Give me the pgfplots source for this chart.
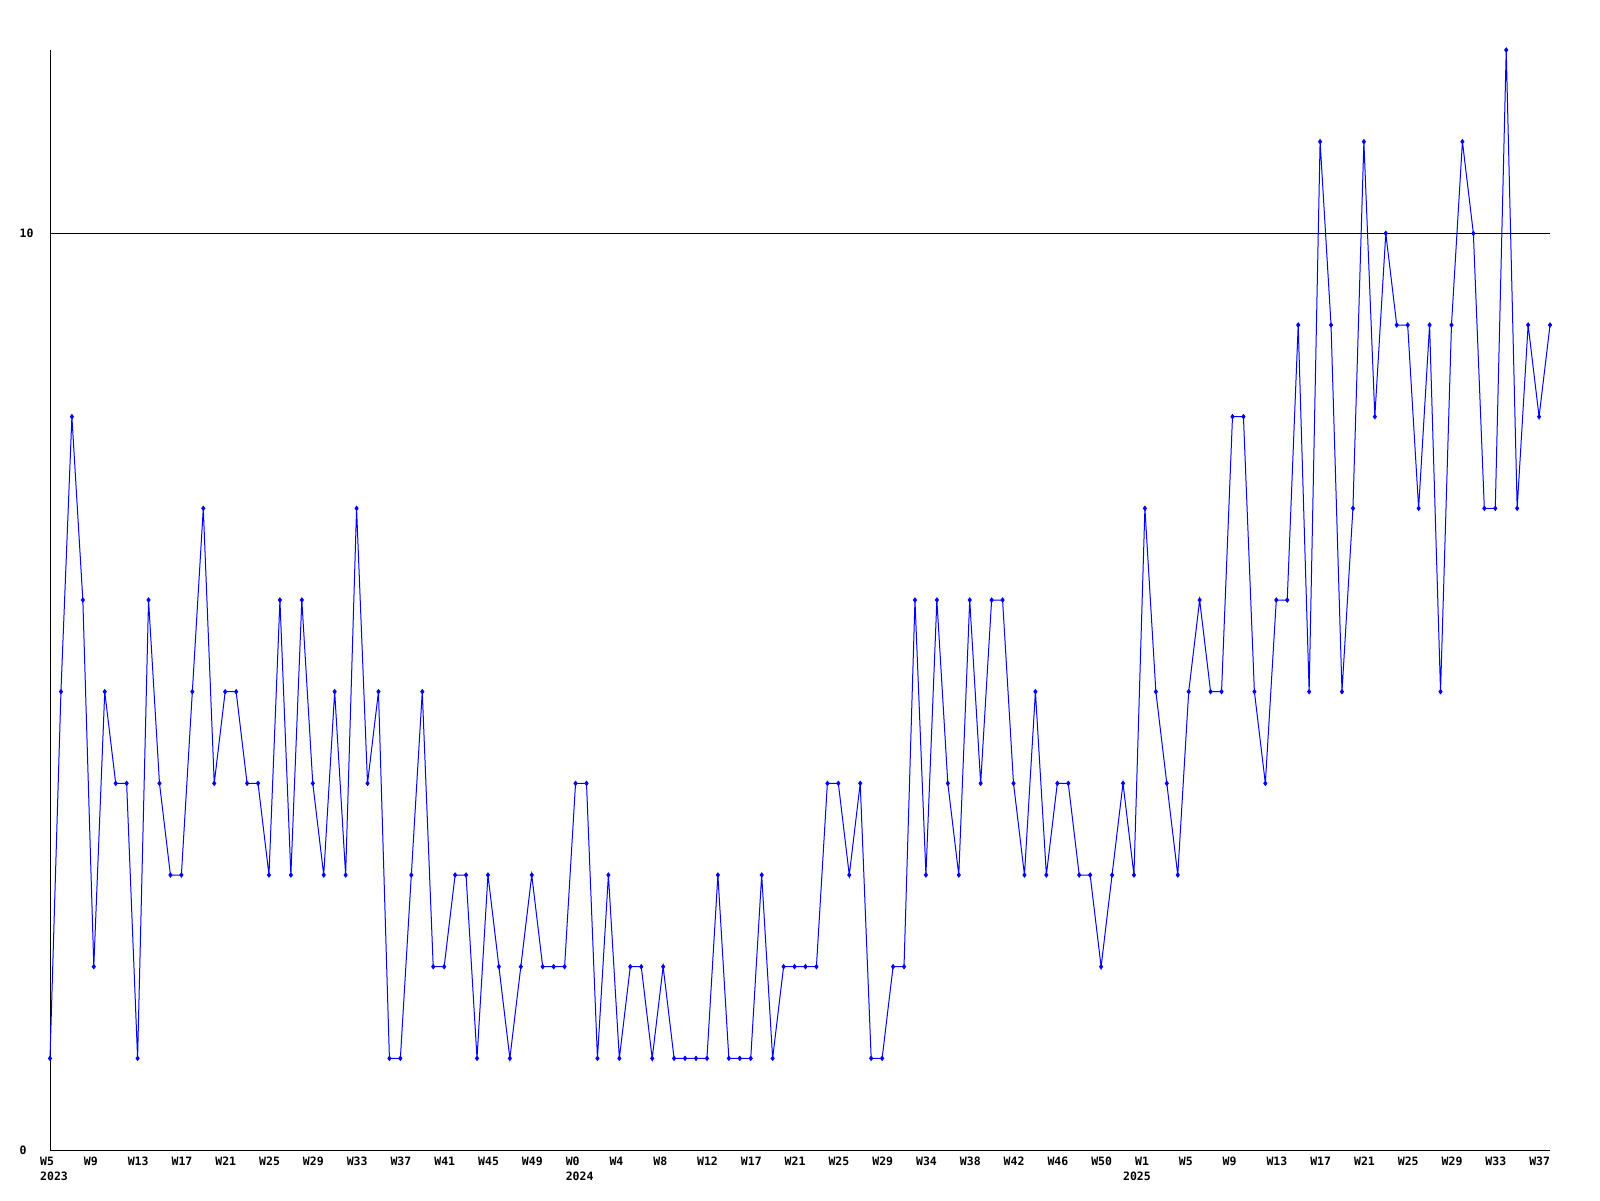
\documentclass[border=0pt]{standalone}
\usepackage{fontspec}
\setmonofont{DejaVu Sans Mono}
\usepackage{pgfplots}
\pgfplotsset{compat=1.18}
\pgfplotstableread{
x y
0 1
1 5
2 8
3 6
4 2
5 5
6 4
7 4
8 1
9 6
10 4
11 3
12 3
13 5
14 7
15 4
16 5
17 5
18 4
19 4
20 3
21 6
22 3
23 6
24 4
25 3
26 5
27 3
28 7
29 4
30 5
31 1
32 1
33 3
34 5
35 2
36 2
37 3
38 3
39 1
40 3
41 2
42 1
43 2
44 3
45 2
46 2
47 2
48 4
49 4
50 1
51 3
52 1
53 2
54 2
55 1
56 2
57 1
58 1
59 1
60 1
61 3
62 1
63 1
64 1
65 3
66 1
67 2
68 2
69 2
70 2
71 4
72 4
73 3
74 4
75 1
76 1
77 2
78 2
79 6
80 3
81 6
82 4
83 3
84 6
85 4
86 6
87 6
88 4
89 3
90 5
91 3
92 4
93 4
94 3
95 3
96 2
97 3
98 4
99 3
100 7
101 5
102 4
103 3
104 5
105 6
106 5
107 5
108 8
109 8
110 5
111 4
112 6
113 6
114 9
115 5
116 11
117 9
118 5
119 7
120 11
121 8
122 10
123 9
124 9
125 7
126 9
127 5
128 9
129 11
130 10
131 7
132 7
133 12
134 7
135 9
136 8
137 9
}\datatable
\begin{document}
\begin{tikzpicture}[x=1pt,y=1pt]
\path[use as bounding box] (0,0) rectangle (1600,1200);
\begin{axis}[
  at={(50pt,50pt)}, anchor=south west,
  scale only axis, width=1500pt, height=1100pt,
  xmin=0, xmax=137, ymin=0, ymax=12,
  axis x line=bottom, axis y line=left,
  axis line style={-, black, line width=1pt},
  xtick={0,4,...,136},
  xticklabels={{W5\\2023},W9,W13,W17,W21,W25,W29,W33,W37,W41,W45,W49,{W0\\2024},W4,W8,W12,W17,W21,W25,W29,W34,W38,W42,W46,W50,{W1\\\hspace*{-12pt}2025},W5,W9,W13,W17,W21,W25,W29,W33,W37},
  ytick={0,10}, yticklabels={0,10},
  ymajorgrids, grid style={black, line width=1pt},
  major tick length=0pt,
  tick style={draw=none},
  ticklabel style={font=\ttfamily\bfseries\fontsize{11.5}{15}\selectfont, text=black},
  xticklabel style={anchor=north west, align=left, inner sep=0pt, xshift=-10pt, yshift=-7pt},
  yticklabel style={anchor=west, inner sep=0pt, xshift=-30.5pt},
  clip=false,
]
\addplot[color={rgb,255:red,0;green,0;blue,255}, line width=1pt, mark=diamond*, mark size=2pt] table[x=x,y=y] {\datatable};
\end{axis}
\end{tikzpicture}
\end{document}
